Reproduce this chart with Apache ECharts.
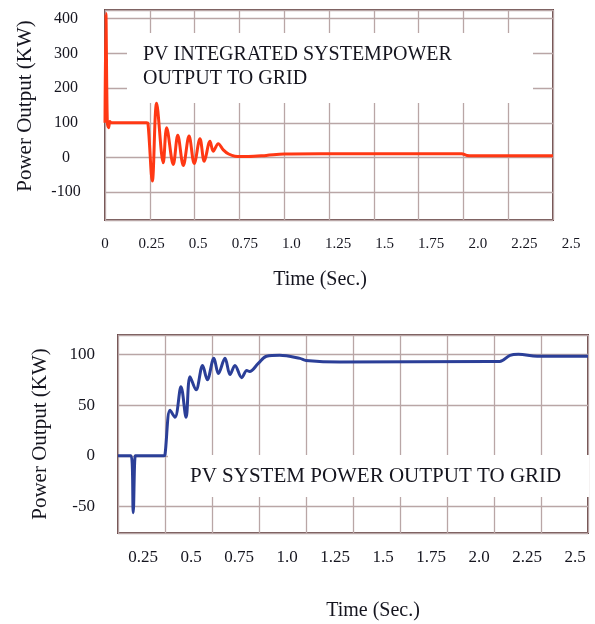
<!DOCTYPE html>
<html>
<head>
<meta charset="utf-8">
<script src="https://cdn.jsdelivr.net/npm/echarts@6/dist/echarts.min.js"></script>
<style>
  html, body { margin: 0; padding: 0; background: #fff; }
  #chart { width: 595px; height: 624px; }
</style>
</head>
<body>
<div id="chart"></div>
<script>
// PV integrated system power output to grid (top)
const timeTop = [0, 0.005, 0.013, 0.02, 0.027, 0.035, 0.232, 0.24, 0.264, 0.288, 0.325, 0.344,
  0.381, 0.406, 0.437, 0.469, 0.498, 0.53, 0.554, 0.586, 0.604, 0.632, 0.66, 0.69, 0.725,
  0.8, 0.9, 1.0, 1.2, 1.99, 2.02, 2.05, 2.5];
const powerTop = [100, 415, 100, 86, 104, 100, 100, 98, -68, 156, -15, 86,
  -20, 64, -23, 62, -17, 54, -11, 47, 18, 40, 22, 10, 4,
  3, 6, 10, 11, 11, 6, 5, 5];

// PV system power output to grid (bottom)
const timeBottom = [0, 0.07, 0.081, 0.092, 0.1, 0.245, 0.25, 0.277, 0.303, 0.335, 0.362, 0.383,
  0.415, 0.45, 0.475, 0.51, 0.534, 0.569, 0.596, 0.622, 0.658, 0.685, 0.7, 0.746, 0.79,
  0.86, 0.968, 1.0, 1.18, 1.98, 2.03, 2.085, 2.13, 2.23, 2.5];
const powerBottom = [0, 0, -56, 0, 0, 0, 1, 45, 38, 68, 38, 78,
  65, 89, 75, 96, 81, 96, 80, 89, 77, 84, 83, 91, 98,
  99, 96, 94, 92.5, 93, 93, 99, 100, 98, 98];

const xTickLabels = ["0", "0.25", "0.5", "0.75", "1.0", "1.25", "1.5", "1.75", "2.0", "2.25", "2.5"];
const yTicksTop = [-100, 0, 100, 200, 300, 400];
const yTicksBottom = [-50, 0, 50, 100];

const serif = "'Liberation Serif', 'DejaVu Serif', serif";
const textColor = "#15151f";
const gridColor = "#b9a6a6";
const borderColor = "#6d4c4c";

function pairs(xs, ys) { return xs.map((x, i) => [x, ys[i]]); }

function labelAxis(gridIndex, fontSize, margin, showMin) {
  return {
    type: "value", gridIndex, min: 0, max: 2.5, interval: 0.25,
    axisLine: { show: false }, axisTick: { show: false }, splitLine: { show: false },
    axisLabel: {
      showMinLabel: showMin, color: textColor, fontFamily: serif, fontSize, margin,
      formatter: (v) => xTickLabels[Math.round(v / 0.25)] || "",
    },
  };
}

function dataXAxis(gridIndex) {
  return {
    type: "value", gridIndex, min: 0, max: 2.5, interval: 0.25,
    axisLine: { show: false }, axisTick: { show: false }, axisLabel: { show: false },
    splitLine: { lineStyle: { color: gridColor, width: 1.3 } },
  };
}

function dataYAxis(gridIndex, min, max, split, ticks, fontSize, margin, align) {
  return {
    type: "value", gridIndex, min, max, splitNumber: split,
    axisLine: { show: false }, axisTick: { show: false },
    splitLine: { lineStyle: { color: gridColor, width: 1.3 } },
    axisLabel: {
      color: textColor, fontFamily: serif, fontSize, margin, align,
      formatter: (v) => (ticks.includes(v) ? String(v) : ""),
    },
  };
}

const chart = echarts.init(document.getElementById("chart"));

const option = {
  backgroundColor: "#fff",
  animation: false,
  grid: [
    { left: 105, top: 10, width: 448, height: 210, show: true, borderColor, borderWidth: 2 },
    { left: 105, top: 10, width: 466, height: 210 },
    { left: 118, top: 335, width: 470, height: 198, show: true, borderColor, borderWidth: 2 },
    { left: 95, top: 335, width: 480, height: 198 },
  ],
  xAxis: [
    dataXAxis(0),
    labelAxis(1, 15, 17, true),
    dataXAxis(2),
    labelAxis(3, 17, 16, false),
  ],
  yAxis: [
    dataYAxis(0, -180, 425, 6, yTicksTop, 16, 39, "center"),
    { type: "value", gridIndex: 1, show: false },
    dataYAxis(2, -76, 119, 4, yTicksBottom, 17, 23, "right"),
    { type: "value", gridIndex: 3, show: false },
  ],
  series: [
    {
      type: "line", xAxisIndex: 0, yAxisIndex: 0, z: 3,
      data: pairs(timeTop, powerTop),
      showSymbol: false, smooth: 0.35,
      lineStyle: { color: "#ff3814", width: 3 },
    },
    {
      type: "line", xAxisIndex: 2, yAxisIndex: 2, z: 3,
      data: pairs(timeBottom, powerBottom),
      showSymbol: false, smooth: 0.35,
      lineStyle: { color: "#2b3f98", width: 3 },
    },
  ],
  graphic: [
    { type: "rect", z: 1, shape: { x: 127, y: 33, width: 406, height: 70 }, style: { fill: "#fff" } },
    {
      type: "text", z: 4, x: 143, y: 67,
      style: {
        text: "PV INTEGRATED SYSTEMPOWER\nOUTPUT TO GRID", fill: textColor,
        font: "20px " + serif, lineHeight: 24, textVerticalAlign: "middle",
      },
    },
    { type: "rect", z: 1, shape: { x: 168, y: 455, width: 421, height: 42 }, style: { fill: "#fff" } },
    {
      type: "text", z: 4, x: 190, y: 476,
      style: {
        text: "PV SYSTEM POWER OUTPUT TO GRID", fill: textColor,
        font: "21px " + serif, textVerticalAlign: "middle",
      },
    },
    {
      type: "text", z: 4, x: 320, y: 280,
      style: { text: "Time (Sec.)", fill: textColor, font: "20px " + serif, textAlign: "center", textVerticalAlign: "middle" },
    },
    {
      type: "text", z: 4, x: 373, y: 611,
      style: { text: "Time (Sec.)", fill: textColor, font: "20px " + serif, textAlign: "center", textVerticalAlign: "middle" },
    },
    {
      type: "text", z: 4, x: 25, y: 106, rotation: Math.PI / 2,
      style: { text: "Power Output (KW)", fill: textColor, font: "21px " + serif, textAlign: "center", textVerticalAlign: "middle" },
    },
    {
      type: "text", z: 4, x: 40, y: 434, rotation: Math.PI / 2,
      style: { text: "Power Output (KW)", fill: textColor, font: "21px " + serif, textAlign: "center", textVerticalAlign: "middle" },
    },
  ],
};

chart.setOption(option);
</script>
</body>
</html>
